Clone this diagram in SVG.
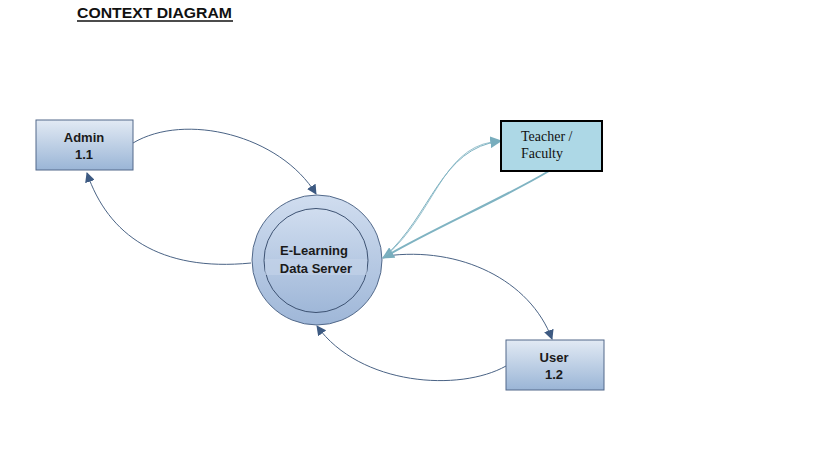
<svg xmlns="http://www.w3.org/2000/svg" width="822" height="463" viewBox="0 0 822 463">
<style>
.ent{fill:url(#boxg);stroke:#52698a;stroke-width:1}
.lbl{font-family:"Liberation Sans",Arial,sans-serif;font-weight:bold;font-size:13px;fill:#1a1a1a;text-anchor:middle}
.ser{font-family:"Liberation Serif","Times New Roman",serif;font-size:14px;fill:#111}
.flow{fill:none;stroke:#4a6385;stroke-width:1}
.tflow{fill:none;stroke:#7fb3c2}
</style>
<defs>
<linearGradient id="boxg" x1="0" y1="0" x2="0" y2="1">
<stop offset="0" stop-color="#e2eaf4"/>
<stop offset="1" stop-color="#9ab5d6"/>
</linearGradient>
<linearGradient id="circg" x1="0" y1="0" x2="0" y2="1">
<stop offset="0" stop-color="#d0ddef"/>
<stop offset="1" stop-color="#9fb7d8"/>
</linearGradient>
<marker id="ah" viewBox="0 0 10 10" refX="9" refY="5" markerWidth="10" markerHeight="10" orient="auto" markerUnits="userSpaceOnUse">
<path d="M0,0 L10,5 L0,10 z" fill="#3d5a82"/>
</marker>
<marker id="aht" viewBox="0 0 10 10" refX="9" refY="5" markerWidth="12" markerHeight="12" orient="auto" markerUnits="userSpaceOnUse">
<path d="M0,0 L10,5 L0,10 z" fill="#78adbd"/>
</marker>
</defs>
<rect width="822" height="463" fill="#ffffff"/>
<g id="title">
<text x="77" y="18" font-family="'Liberation Sans',Arial,sans-serif" font-size="15" font-weight="bold" textLength="155" lengthAdjust="spacingAndGlyphs" fill="#111">CONTEXT DIAGRAM</text>
<line x1="77" y1="21" x2="233" y2="21" stroke="#111" stroke-width="1.5"/>
</g>
<g id="connectors">
<path class="flow" d="M133,143 C185,112 280,135 316,194" marker-end="url(#ah)"/>
<path class="flow" d="M251,263 C160,272 108,235 87,173" marker-end="url(#ah)"/>
<path class="flow" d="M386,256 C460,246 530,280 552,339" marker-end="url(#ah)"/>
<path class="flow" d="M506,366 C460,392 360,386 317,326" marker-end="url(#ah)"/>
<path class="tflow" stroke-width="2" d="M549,171 C500,200 430,230 383,258" marker-end="url(#aht)"/>
<path class="tflow" stroke-width="1" d="M384,257 C432,215 440,148 501,141" marker-end="url(#aht)"/>
<path class="tflow" stroke-width="0.8" d="M387,255 C434,213 442,150 492,142"/>
</g>
<g id="server">
<circle cx="317" cy="260" r="65" fill="url(#circg)" stroke="#52698a" stroke-width="1"/>
<circle cx="316" cy="260.5" r="52" fill="url(#circg)" stroke="#3d5272" stroke-width="1"/>
<rect x="265" y="259" width="102" height="16" fill="#c4d4ea" opacity="0.6"/>
<text class="lbl" x="314" y="255">E-Learning</text>
<text class="lbl" x="316" y="273">Data Server</text>
</g>
<g id="admin">
<rect class="ent" x="36" y="120" width="97" height="50"/>
<text class="lbl" x="84" y="142">Admin</text>
<text class="lbl" x="84" y="159">1.1</text>
</g>
<g id="teacher">
<rect x="501" y="121" width="101" height="50" fill="#add8e6" stroke="#000" stroke-width="2"/>
<text class="ser" x="521" y="141">Teacher /</text>
<text class="ser" x="521" y="158">Faculty</text>
</g>
<g id="user">
<rect class="ent" x="506" y="340" width="98" height="50"/>
<text class="lbl" x="554" y="362">User</text>
<text class="lbl" x="554" y="379">1.2</text>
</g>
</svg>
